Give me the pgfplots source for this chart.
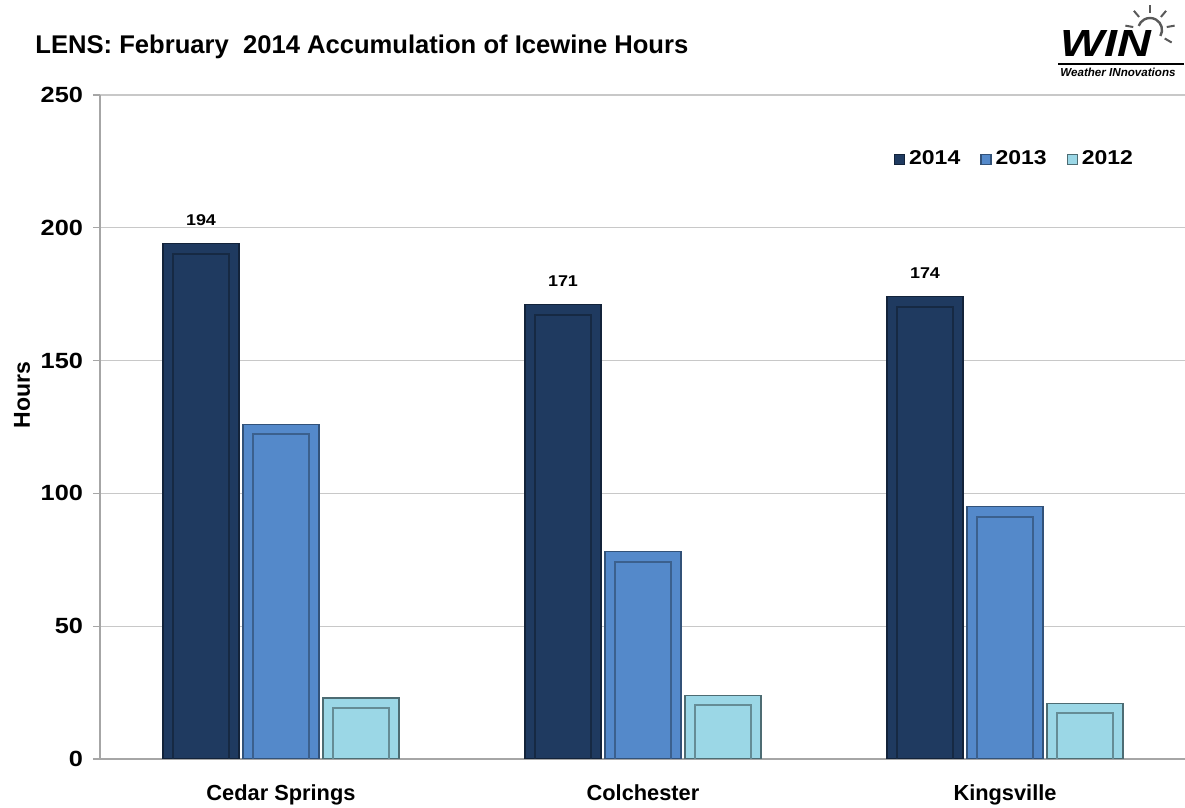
\documentclass[border=0pt]{standalone}
\usepackage{pgfplots}
\pgfplotsset{compat=1.18}
\usepackage{fontspec}
\setmainfont{Liberation Sans}
\newfontfamily\numfont[FakeStretch=1.15]{Liberation Sans}
\definecolor{c14}{RGB}{31,58,96}
\definecolor{c13}{RGB}{84,137,202}
\definecolor{c12}{RGB}{155,215,230}
\definecolor{gridc}{RGB}{200,200,200}
\pgfplotstableread{
x y14 y13 y12
0 194 126 23
1 171 78 24
2 174 95 21
}\datatable
\begin{document}
\begin{tikzpicture}
\path[use as bounding box] (0,0) rectangle (592.5pt,404pt);
\begin{axis}[
 at={(50pt,24.5pt)}, anchor=south west, scale only axis,
 width=543pt, height=332pt,
 xmin=-0.5, xmax=2.5, ymin=0, ymax=250,
 ybar, bar width=38pt,
 xtick={0,1,2}, xticklabels={Cedar Springs, Colchester, Kingsville},
 ytick={0,50,...,250},
 axis x line*=bottom, axis y line*=left,
 axis line style={gray!70, line width=1.3pt, -},
 ymajorgrids, grid style={gridc, line width=0.6pt},
 tick align=outside, major tick length=3.5pt,
 xtick style={draw=none},
 ytick style={gray!70, line width=0.6pt},
 /pgf/number format/assume math mode=true,
 xticklabel style={font=\bfseries\fontsize{10.9}{12}\selectfont, anchor=base, yshift=-17.5pt},
 yticklabel style={font=\numfont\bfseries\fontsize{11}{12}\selectfont, anchor=east, xshift=-1.5pt},
 legend style={at={(0.843,0.903)}, anchor=center, draw=none, fill=none,
   legend columns=3, font=\numfont\bfseries\fontsize{10}{12}\selectfont,
   /tikz/every even column/.append style={column sep=8pt}},
 legend image code/.code={\fill[#1] (0pt,-2.5pt) rectangle (5pt,2.5pt);},
]
\addplot[fill=c14, draw=c14!60!black, line width=0.6pt, bar shift=-40pt, nodes near coords,
  every node near coord/.append style={font=\numfont\bfseries\fontsize{7.8}{9}\selectfont, text=black, yshift=5.5pt}]
  table[x=x, y=y14] {\datatable};
\addplot[fill=c13, draw=c13!60!black, line width=0.6pt, bar shift=0pt] table[x=x, y=y13] {\datatable};
\addplot[fill=c12, draw=c12!50!black, line width=0.6pt, bar shift=40pt] table[x=x, y=y12] {\datatable};
\legend{2014,2013,2012}
% bevel insets
\addplot[forget plot, fill=none, draw=c14!70!black, line width=1pt, bar width=28pt, bar shift=-40pt, yshift=-5pt] table[x=x, y=y14] {\datatable};
\addplot[forget plot, fill=none, draw=c13!70!black, line width=1pt, bar width=28pt, bar shift=0pt, yshift=-5pt] table[x=x, y=y13] {\datatable};
\addplot[forget plot, fill=none, draw=c12!65!black, line width=1pt, bar width=28pt, bar shift=40pt, yshift=-5pt] table[x=x, y=y12] {\datatable};
\end{axis}
\node[anchor=west, font=\bfseries\fontsize{12.8}{14}\selectfont, inner sep=0pt] at (17.5pt,380.5pt) {LENS: February\ \ 2014 Accumulation of Icewine Hours};
\node[rotate=90, font=\bfseries\fontsize{11.5}{13}\selectfont] at (11pt,206.5pt) {Hours};
% logo
\begin{scope}[gray!70!black]
\draw[line width=1.2pt] (575pt,389pt) ++(-30:6pt) arc[start angle=-30, end angle=160, radius=6pt];
\foreach \a in {-30,10,50,90,130,170}{\draw[line width=1pt] (575pt,389pt) ++(\a:8.5pt) -- ++(\a:4pt);}
\end{scope}
\node[anchor=west, inner sep=0pt, font=\bfseries\itshape\fontsize{18}{20}\selectfont, xscale=1.3, yscale=1.05] at (530pt,382pt) {WIN};
\draw[line width=1.3pt] (529pt,372pt) -- (592pt,372pt);
\node[anchor=west, inner sep=0pt, font=\bfseries\itshape\fontsize{5.8}{6}\selectfont] at (530pt,368pt) {Weather INnovations};
\end{tikzpicture}
\end{document}
